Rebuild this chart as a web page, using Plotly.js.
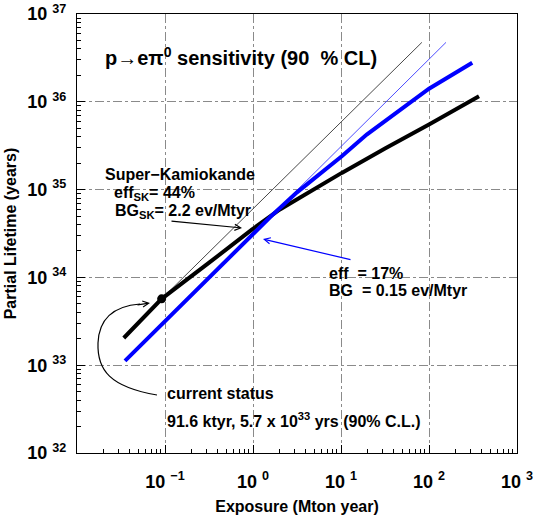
<!DOCTYPE html>
<html>
<head>
<meta charset="utf-8">
<script src="https://cdn.plot.ly/plotly-3.0.1.min.js"></script>
<style>
  body { margin: 0; background: #fff; }
  #chart { width: 540px; height: 516px; }
</style>
</head>
<body>
<div id="chart"></div>
<script>
// exposure in Mton year, partial lifetime in years
var skX = [0.034, 0.0916, 0.32, 0.97, 2.0, 10.2, 32, 100, 370];
var skY = [2.04e33, 5.7e33, 1.48e34, 3.5e34, 5.9e34, 1.55e35, 2.95e35, 5.5e35, 1.16e36];

var newX = [0.0351, 1.58, 3.16, 10.2, 19.6, 100, 310];
var newY = [1.12e33, 4.9e34, 9.3e34, 2.4e35, 4.24e35, 1.41e36, 2.79e36];

// background free lines
var skNoBgX = [0.0916, 83];
var skNoBgY = [5.7e33, 4.75e36];
var newNoBgX = [0.0351, 156];
var newNoBgY = [1.12e33, 4.75e36];

// current status point
var nowX = [0.0916];
var nowY = [5.7e33];

var xTickVals = [0.01, 0.1, 1, 10, 100, 1000];
var xTickText = ['', '10 <sup>\u22121</sup>', '10 <sup>0</sup>', '10 <sup>1</sup>', '10 <sup>2</sup>', '10 <sup>3</sup>'];
var yTickVals = [1e32, 1e33, 1e34, 1e35, 1e36, 1e37];
var yTickText = ['10 <sup>32</sup>', '10 <sup>33</sup>', '10 <sup>34</sup>', '10 <sup>35</sup>', '10 <sup>36</sup>', '10 <sup>37</sup>'];

// minor tick positions 2..9 in every decade
function minorTicks(from, to) {
    var out = [];
    for (var d = from; d < to; d++) {
        for (var k = 2; k <= 9; k++) out.push(k * Math.pow(10, d));
    }
    return out;
}

// plot area in pixels, used to place the text notes
var L = 77, R = 23, T = 14, B = 63, W = 540, H = 516;
function px(x) { return (x - L) / (W - L - R); }
function py(y) { return (H - B - y) / (H - T - B); }

var traces = [
    { x: skNoBgX, y: skNoBgY, mode: 'lines', line: { color: '#333', width: 0.9 } },
    { x: newNoBgX, y: newNoBgY, mode: 'lines', line: { color: '#3a3aff', width: 0.9 } },
    { x: skX, y: skY, mode: 'lines', line: { color: '#000', width: 4 } },
    { x: newX, y: newY, mode: 'lines', line: { color: '#0000ff', width: 4 } },
    { x: nowX, y: nowY, mode: 'markers', marker: { color: '#000', size: 9 } }
];

var font = { family: 'Liberation Sans, Arial, sans-serif', size: 16, color: '#000', weight: 'bold' };

function note(text, x, y, size) {
    return {
        text: text, xref: 'paper', yref: 'paper', x: px(x), y: py(y),
        xanchor: 'left', yanchor: 'middle', showarrow: false,
        font: { family: font.family, size: size || 16, color: '#000', weight: 'bold' }
    };
}

var layout = {
    width: W, height: H,
    margin: { l: L, r: R, t: T, b: B, pad: 0 },
    paper_bgcolor: '#fff', plot_bgcolor: '#fff',
    showlegend: false,
    font: font,
    xaxis: {
        type: 'log', range: [-2, 3],
        tickmode: 'array', tickvals: xTickVals, ticktext: xTickText,
        ticks: 'inside', ticklen: 8, tickwidth: 1, tickcolor: '#000',
        tickfont: { family: font.family, size: 18, weight: 'bold' },
        ticklabelstandoff: 12,
        minor: { tickmode: 'array', tickvals: minorTicks(-2, 3), ticks: 'inside', ticklen: 4, tickcolor: '#000', showgrid: false },
        showgrid: true, gridcolor: '#8a8a8a', griddash: 'dashdot', gridwidth: 1,
        showline: true, linecolor: '#000', linewidth: 1.2, mirror: true, zeroline: false,
        title: { text: 'Exposure (Mton year)', font: { size: 16, weight: 'bold' }, standoff: 10 }
    },
    yaxis: {
        type: 'log', range: [32, 37],
        tickmode: 'array', tickvals: yTickVals, ticktext: yTickText,
        ticks: 'inside', ticklen: 8, tickwidth: 1, tickcolor: '#000',
        tickfont: { family: font.family, size: 18, weight: 'bold' },
        ticklabelstandoff: 6,
        minor: { tickmode: 'array', tickvals: minorTicks(32, 37), ticks: 'inside', ticklen: 4, tickcolor: '#000', showgrid: false },
        showgrid: true, gridcolor: '#8a8a8a', griddash: 'dashdot', gridwidth: 1,
        showline: true, linecolor: '#000', linewidth: 1.2, mirror: true, zeroline: false,
        title: { text: 'Partial Lifetime (years)', font: { size: 16, weight: 'bold' }, standoff: 6 }
    },
    annotations: [
        note('p\u2192e\u03c0<sup>0</sup> sensitivity (90 \u00a0% CL)', 103, 56, 20),
        note('Super\u2212Kamiokande', 103, 174),
        note('eff<sub>SK</sub>= 44%', 112, 193),
        note('BG<sub>SK</sub>= 2.2 ev/Mtyr', 113, 211),
        note('eff\u00a0\u00a0= 17%', 327, 273),
        note('BG\u00a0\u00a0= 0.15 ev/Mtyr', 327, 291),
        note('current status', 165, 393),
        note('91.6 ktyr, 5.7 x 10<sup>33</sup> yrs (90% C.L.)', 165, 420),
        // arrows
        { text: '', xref: 'paper', yref: 'paper', x: px(242), y: py(228), ax: -72, ay: -7,
          showarrow: true, arrowhead: 5, arrowsize: 1, arrowwidth: 1.2, arrowcolor: '#000' },
        { text: '', xref: 'paper', yref: 'paper', x: px(263), y: py(239), ax: 89, ay: 21,
          showarrow: true, arrowhead: 5, arrowsize: 1, arrowwidth: 1.2, arrowcolor: '#0000ff' },
        { text: '', xref: 'paper', yref: 'paper', x: px(150), y: py(303), ax: -14, ay: 2,
          showarrow: true, arrowhead: 5, arrowsize: 1, arrowwidth: 1.2, arrowcolor: '#000' }
    ],
    shapes: [
        {
            type: 'path', xref: 'paper', yref: 'paper',
            path: 'M ' + px(157) + ',' + py(395) +
                  ' C ' + px(110) + ',' + py(387) + ' ' + px(97) + ',' + py(370) + ' ' + px(98) + ',' + py(343) +
                  ' C ' + px(99) + ',' + py(318) + ' ' + px(115) + ',' + py(306) + ' ' + px(140) + ',' + py(304),
            line: { color: '#000', width: 1.2 }
        }
    ]
};

Plotly.newPlot('chart', traces, layout, { staticPlot: true });
</script>
</body>
</html>
